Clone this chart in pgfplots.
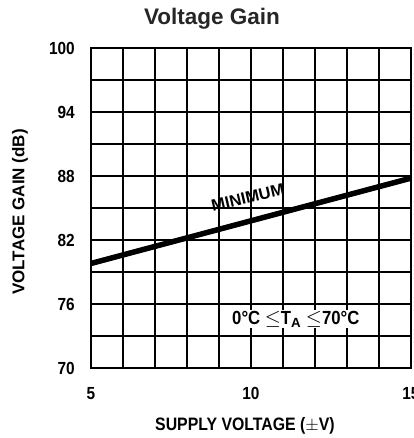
\documentclass[border=0pt]{standalone}
\usepackage{fontspec}
\setmainfont{Liberation Sans}
\newfontfamily\cond{Liberation Sans}[FakeStretch=0.88]
\newfontfamily\wide{Liberation Sans}
\usepackage{pgfplots}
\pgfplotsset{compat=1.18}
\begin{document}
\begin{tikzpicture}
\clip (-91bp,-70bp) rectangle (323bp,368bp);
\begin{axis}[
  scale only axis,
  width=320bp, height=320bp,
  xmin=5, xmax=15, ymin=70, ymax=100,
  xtick={5,10,15}, ytick={70,76,82,88,94,100},
  minor xtick={5,6,...,15}, minor ytick={70,73,...,100},
  grid=both,
  major grid style={black, line width=1.5bp},
  minor grid style={black, line width=1.5bp},
  axis line style={black, line width=2.8bp},
  tick style={draw=none},
  /pgf/number format/assume math mode=true,
  ticklabel style={font=\cond\bfseries\fontsize{17.5bp}{20bp}\selectfont},
  xticklabel style={anchor=base, yshift=-31bp},
  yticklabel style={anchor=east, inner sep=0pt, xshift=-16bp},
  title={Voltage Gain},
  title style={font=\wide\bfseries\fontsize{22.5bp}{26bp}\selectfont, text=black!85, at={(axis description cs:0.378,1.072)}, anchor=center},
  xlabel={SUPPLY VOLTAGE ($\pm$V)},
  xlabel style={font=\cond\bfseries\fontsize{18bp}{20bp}\selectfont, at={(axis description cs:0.481,-0.182)}, anchor=center},
  ylabel={VOLTAGE GAIN (dB)},
  ylabel style={font=\wide\bfseries\fontsize{17bp}{20bp}\selectfont, at={(axis description cs:-0.222,0.4875)}, anchor=center, rotate=0},
  clip=false,
]
\addplot[black, line width=5.5bp] coordinates {(5,79.8) (10,83.8) (15,87.8)};
\node[rotate=13, font=\wide\bfseries\fontsize{16.5bp}{20bp}\selectfont] at (axis cs:9.9,86.0) {MINIMUM};
\node[fill=white, inner sep=1bp, font=\cond\bfseries\fontsize{19bp}{22bp}\selectfont] at (axis cs:11.4,74.6) {0°C $\leq$T$_{\mathbf{A}}$ $\leq$70°C};
\end{axis}
\end{tikzpicture}
\end{document}
